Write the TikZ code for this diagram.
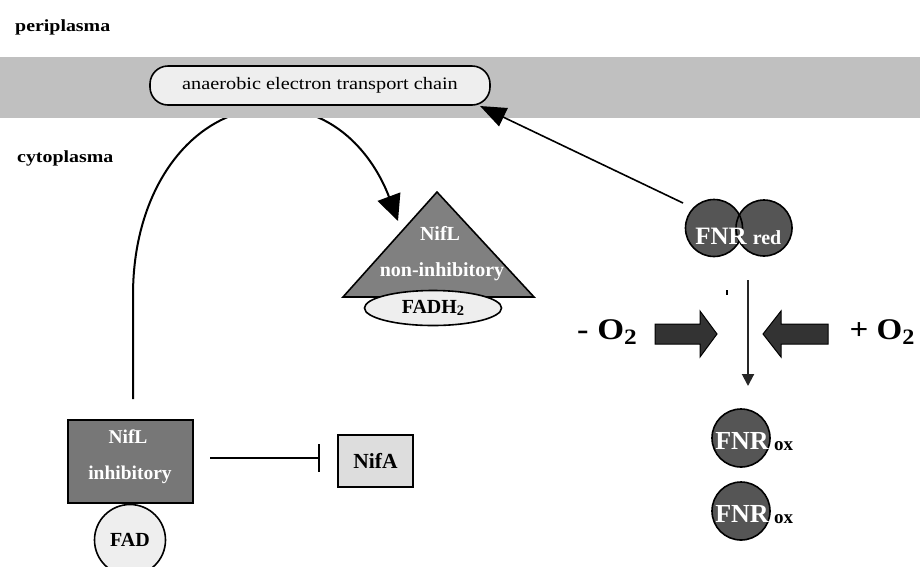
\documentclass[tikz,border=0pt]{standalone}
\usepackage{fontspec}
\usepackage{graphicx}
\setmainfont{Liberation Serif}
\usetikzlibrary{arrows.meta,shapes.geometric}
\definecolor{bandgray}{HTML}{C0C0C0}
\definecolor{paleFill}{HTML}{EEEEEE}
\definecolor{nifaFill}{HTML}{DDDDDD}
\definecolor{triFill}{HTML}{808080}
\definecolor{boxFill}{HTML}{777777}
\definecolor{fnrFill}{HTML}{555555}
\definecolor{blockFill}{HTML}{333333}
\pgfdeclarelayer{bg}
\pgfsetlayers{bg,main}
\newcommand{\fs}[1]{\fontsize{#1}{#1}\selectfont}
\newcommand{\sub}[2]{\raisebox{-#1pt}{\fs{#2}2}}
\begin{document}
\begin{tikzpicture}[x=1pt,y=-1pt,
  lbl/.style={inner sep=0pt, font=\bfseries},
  wlbl/.style={inner sep=0pt, font=\bfseries, text=white},
  pale/.style={draw=black, line width=1.6pt, fill=paleFill},
  conn/.style={line width=1.6pt},
  blockarrow/.style={fill=blockFill, draw=black, line width=1pt}]
\useasboundingbox (0,0) rectangle (920,566);

% labels
\node[lbl, anchor=west] (peri) at (15,27) {\scalebox{1.17}[1]{\fs{17}periplasma}};
\node[lbl, anchor=west] (cyto) at (17,158) {\scalebox{1.17}[1]{\fs{17}cytoplasma}};

% membrane band
\node[fill=bandgray, minimum width=920pt, minimum height=61pt, inner sep=0pt, anchor=north west] (band) at (0,57) {};

% anaerobic electron transport chain
\node[pale, rounded corners=18pt, minimum width=340pt, minimum height=39pt, inner sep=0pt] (aetc) at (320,85.5)
  {\scalebox{1.16}[1]{\fs{17.5}anaerobic electron transport chain}};

% NifL non-inhibitory triangle
\coordinate (triTop) at (437,192);
\coordinate (triR) at (534,297);
\coordinate (triL) at (343,297);
\filldraw[fill=triFill, draw=black, line width=1.6pt] (triTop) -- (triR) -- (triL) -- cycle;
\node[wlbl] (nifl1) at (440,233) {\fs{20}NifL};
\node[wlbl] (nonin) at (442,272) {\fs{20}non-inhibitory};
\node[pale, ellipse, minimum width=137pt, minimum height=35pt, inner sep=0pt] (fadh) at (433,308)
  {\bfseries\fs{20}FADH\sub{2}{14.5}};

% NifL inhibitory
\node[draw=black, line width=2pt, fill=boxFill, minimum width=125pt, minimum height=83pt, inner sep=0pt] (nifli) at (130.5,461.5) {};
\node[wlbl] (nifl2) at (128,437) {\fs{19.5}NifL};
\node[wlbl] (inhib) at (130,475) {\fs{19.5}inhibitory};
\node[pale, circle, minimum size=71pt, inner sep=0pt] (fad) at (130,540) {\bfseries\fs{20}FAD};

% NifA
\node[draw=black, line width=1.6pt, fill=nifaFill, minimum width=75pt, minimum height=52pt, inner sep=0pt] (nifa) at (375.5,461) {\bfseries\fs{21.5}NifA};

% inhibition connector
\coordinate (inhS) at (210,458);
\coordinate (inhE) at (320,458);
\draw[conn, -{Bar[width=28pt,line width=1.6pt]}] (inhS) -- (inhE);

% curved arrow (behind membrane band)
\coordinate (cStart) at (133,399);
\coordinate (cEnd) at (398,221);
\begin{pgfonlayer}{bg}
\draw[line width=2pt, -{Triangle[length=26pt,width=24pt]}] (cStart) -- (133,295)
  .. controls (133,185) and (195,108) .. (272,108)
  .. controls (340,108) and (376,162) .. (cEnd);
\end{pgfonlayer}

% FNR red (two overlapping discs, both outlines visible)
\node[circle, fill=fnrFill, minimum size=56pt, inner sep=0pt] (fnrB) at (764,228) {};
\node[circle, fill=fnrFill, minimum size=57pt, inner sep=0pt] (fnrA) at (714,228) {};
\draw[black, line width=1.6pt] (fnrB) circle[radius=28pt];
\draw[black, line width=1.6pt] (fnrA) circle[radius=28.5pt];
\node[wlbl] (fnrT) at (721,236) {\fs{25}FNR};
\node[wlbl] (redT) at (767,238) {\fs{20}red};

% arrow FNR red -> transport chain
\coordinate (a1) at (683,203);
\coordinate (a2) at (480,106);
\draw[conn, -{Triangle[length=26pt,width=20pt]}] (a1) -- (a2);

% vertical arrow
\coordinate (vS) at (748,280);
\coordinate (vE) at (748,386);
\draw[line width=2pt, draw=black!85, -{Triangle[length=12pt,width=12pt]}] (vS) -- (vE);
\coordinate (tick) at (727,290);
\draw[line width=1.2pt] (tick) -- ++(0,5);

% O2 labels
\node[lbl] (minus) at (607,332) {\scalebox{1.15}[1]{\fs{30}- O\sub{5}{22}}};
\node[lbl] (plus) at (882,332) {\scalebox{1.1}[1]{\fs{30}+ O\sub{5}{22}}};

% block arrows
\filldraw[blockarrow] (655,324) -- (700,324) -- (700,311) -- (717,334) -- (700,357) -- (700,344) -- (655,344) -- cycle;
\coordinate (rTip) at (717,334);
\filldraw[blockarrow] (828,324) -- (781,324) -- (781,311) -- (763,334) -- (781,357) -- (781,344) -- (828,344) -- cycle;
\coordinate (lTip) at (763,334);

% FNR ox
\node[circle, draw=black, line width=1.6pt, fill=fnrFill, minimum size=58pt, inner sep=0pt] (ox1) at (741,438) {};
\node[wlbl] (ox1T) at (742,441) {\fs{26}FNR};
\node[lbl, anchor=west] (ox1S) at (774,446) {\fs{19}ox};
\node[circle, draw=black, line width=1.6pt, fill=fnrFill, minimum size=58pt, inner sep=0pt] (ox2) at (741,511) {};
\node[wlbl] (ox2T) at (742,514) {\fs{26}FNR};
\node[lbl, anchor=west] (ox2S) at (774,519) {\fs{19}ox};
\end{tikzpicture}
\end{document}
